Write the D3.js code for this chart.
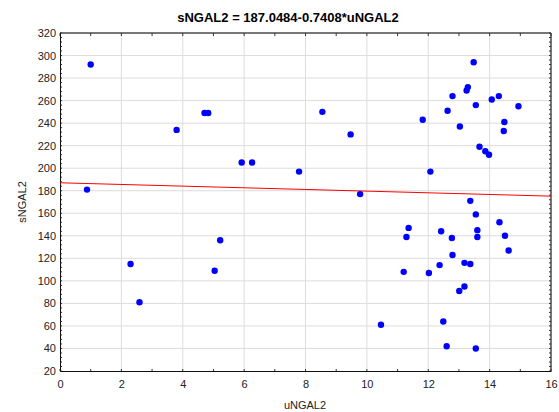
<!DOCTYPE html>
<html>
<head>
<meta charset="utf-8">
<script src="https://cdn.jsdelivr.net/npm/d3@7"></script>
<style>
  body { margin: 0; background: #fff; }
  svg { font-family: Arial, "Liberation Sans", sans-serif; }
  .grid line { stroke: #dcdcdc; stroke-width: 1; }
  .tick text { font-size: 11px; fill: #222; }
</style>
</head>
<body>
<div id="chart"></div>
<script>
// data
const uNGAL2 = [1.0, 0.88, 3.80, 4.71, 4.83, 5.92, 6.26,
    13.48, 13.29, 13.25, 12.79, 14.30, 14.07, 13.55, 14.94, 12.63, 8.55, 11.82, 14.48, 13.03, 14.46, 9.47,
    13.67, 13.86, 13.98, 7.79, 12.07, 9.78, 13.37,
    2.30, 2.59, 5.22, 5.04,
    13.55, 11.36, 14.32, 12.42, 13.60, 11.29, 12.77, 13.60, 14.50, 14.62, 12.79, 13.18, 13.37, 12.37,
    11.20, 12.02, 13.18, 13.01, 10.46, 12.49, 12.60, 13.55];
const sNGAL2 = [292, 181, 234, 249, 249, 205, 205,
    294, 272, 269, 264, 264, 261, 256, 255, 251, 250, 243, 241, 237, 233, 230,
    219, 215, 212, 197, 197, 177, 171,
    115, 81, 136, 109,
    159, 147, 152, 144, 145, 139, 138, 139, 140, 127, 123, 116, 115, 114,
    108, 107, 95, 91, 61, 64, 42, 40];
const intercept = 187.0484;
const slope = -0.7408;
const xTicks = [0, 2, 4, 6, 8, 10, 12, 14, 16];
const yTicks = [20, 40, 60, 80, 100, 120, 140, 160, 180, 200, 220, 240, 260, 280, 300, 320];

const W = 559, H = 412;
const margin = { top: 33, right: 8, bottom: 41, left: 60 };
const width = W - margin.left - margin.right;
const height = H - margin.top - margin.bottom;

const svg = d3.select("#chart").append("svg")
    .attr("width", W).attr("height", H);
const g = svg.append("g")
    .attr("transform", `translate(${margin.left},${margin.top})`);

const x = d3.scaleLinear().domain([0, 16]).range([0, width]);
const y = d3.scaleLinear().domain([20, 320]).range([height, 0]);

// grid lines
g.append("g").attr("class", "grid")
    .selectAll("line").data(xTicks.slice(1, -1)).join("line")
    .attr("x1", d => x(d)).attr("x2", d => x(d))
    .attr("y1", 0).attr("y2", height);
g.append("g").attr("class", "grid")
    .selectAll("line").data(yTicks.slice(1, -1)).join("line")
    .attr("y1", d => y(d)).attr("y2", d => y(d))
    .attr("x1", 0).attr("x2", width);

// frame top & right (gray)
g.append("line").attr("x1", 0).attr("x2", width).attr("y1", 0).attr("y2", 0)
    .attr("stroke", "#777").attr("stroke-width", 2);
g.append("line").attr("x1", width).attr("x2", width).attr("y1", 0).attr("y2", height)
    .attr("stroke", "#777").attr("stroke-width", 2);

// minor ticks
const xMinor = d3.range(0, 16.01, 1);
const yMinor = d3.range(20, 320.01, 4);
g.append("g").selectAll("line").data(xMinor).join("line")
    .attr("x1", d => x(d)).attr("x2", d => x(d))
    .attr("y1", height).attr("y2", height - 2).attr("stroke", "#333");
g.append("g").selectAll("line").data(xMinor).join("line")
    .attr("x1", d => x(d)).attr("x2", d => x(d))
    .attr("y1", 0).attr("y2", 3).attr("stroke", "#333");
g.append("g").selectAll("line").data(yMinor).join("line")
    .attr("y1", d => y(d)).attr("y2", d => y(d))
    .attr("x1", 0).attr("x2", 2).attr("stroke", "#333");
g.append("g").selectAll("line").data(yMinor).join("line")
    .attr("y1", d => y(d)).attr("y2", d => y(d))
    .attr("x1", width).attr("x2", width - 2).attr("stroke", "#333");

// axes
const xAxis = g.append("g")
    .attr("transform", `translate(0,${height})`)
    .call(d3.axisBottom(x).tickValues(xTicks).tickSize(0).tickPadding(9));
const yAxis = g.append("g")
    .call(d3.axisLeft(y).tickValues(yTicks).tickSize(0).tickPadding(4));
[xAxis, yAxis].forEach(a => a.select(".domain").attr("stroke", "#111"));

// regression line
g.append("line")
    .attr("x1", x(0)).attr("y1", y(intercept + slope * 0))
    .attr("x2", x(16)).attr("y2", y(intercept + slope * 16))
    .attr("stroke", "#ff0000").attr("stroke-width", 1);

// points
g.selectAll(".dot").data(uNGAL2.map((d, i) => [d, sNGAL2[i]])).join("circle")
    .attr("class", "dot")
    .attr("cx", d => x(d[0])).attr("cy", d => y(d[1]))
    .attr("r", 3.2).attr("fill", "#0000ff");

// title and labels
svg.append("text")
    .attr("x", 288).attr("y", 22)
    .attr("text-anchor", "middle")
    .attr("font-size", "13px").attr("font-weight", "bold")
    .text(`sNGAL2 = ${intercept}-${Math.abs(slope)}*uNGAL2`);
svg.append("text")
    .attr("x", 305).attr("y", 409)
    .attr("text-anchor", "middle")
    .attr("font-size", "11px").attr("fill", "#222")
    .text("uNGAL2");
svg.append("text")
    .attr("transform", "rotate(-90)")
    .attr("x", -202).attr("y", 26)
    .attr("text-anchor", "middle")
    .attr("font-size", "11px").attr("fill", "#222")
    .text("sNGAL2");
</script>
</body>
</html>
